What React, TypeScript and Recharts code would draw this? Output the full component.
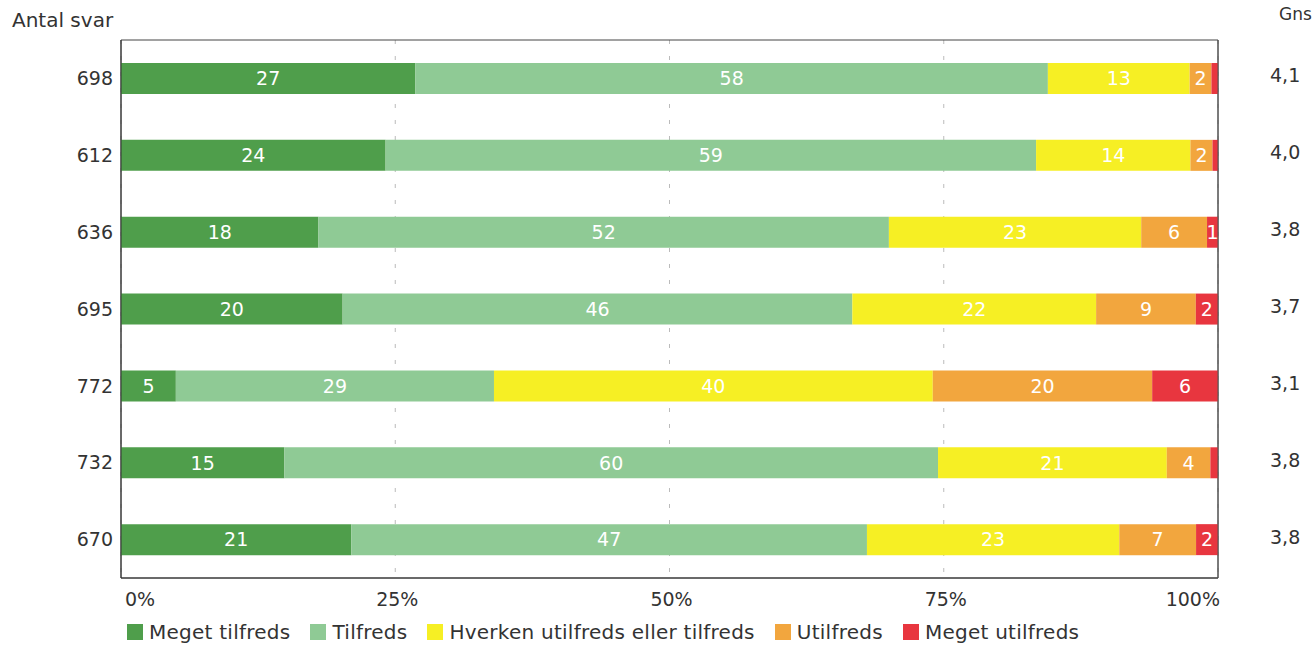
import { Bar, BarChart, CartesianGrid, LabelList, ReferenceArea, XAxis, YAxis } from "recharts";

const antalSvar = ["698", "612", "636", "695", "772", "732", "670"];
const megetTilfreds = [27, 24, 18, 20, 5, 15, 21];
const tilfreds = [58, 59, 52, 46, 29, 60, 47];
const hverken = [13, 14, 23, 22, 40, 21, 23];
const utilfreds = [2, 2, 6, 9, 20, 4, 7];
const megetUtilfreds = [0.6, 0.5, 1, 2, 6, 0.7, 2];
const gns = ["4,1", "4,0", "3,8", "3,7", "3,1", "3,8", "3,8"];
const xTicks = [0, 0.25, 0.5, 0.75, 1];

const series = [
  { key: "megetTilfreds", name: "Meget tilfreds", color: "#4f9e4b" },
  { key: "tilfreds", name: "Tilfreds", color: "#8fca95" },
  { key: "hverken", name: "Hverken utilfreds eller tilfreds", color: "#f6ef24" },
  { key: "utilfreds", name: "Utilfreds", color: "#f2a63e" },
  { key: "megetUtilfreds", name: "Meget utilfreds", color: "#e8363f" },
];

const data = antalSvar.map((n, i) => ({
  n,
  megetTilfreds: megetTilfreds[i],
  tilfreds: tilfreds[i],
  hverken: hverken[i],
  utilfreds: utilfreds[i],
  megetUtilfreds: megetUtilfreds[i],
}));

const font = "'DejaVu Sans', Verdana, sans-serif";

function XTick({ x, y, payload }: any) {
  const v = payload.value;
  const anchor = v === 0 ? "start" : v === 1 ? "end" : "middle";
  return (
    <text x={v === 0 ? x + 4 : x + 2} y={y + 20} textAnchor={anchor} fontSize={19} fill="#333" fontFamily={font}>
      {Math.round(v * 100) + "%"}
    </text>
  );
}

function GnsTick({ x, y, payload }: any) {
  return (
    <text x={x + 44} y={y} dy={4} textAnchor="start" fontSize={19} fill="#333" fontFamily={font}>
      {gns[payload.index]}
    </text>
  );
}

export default function App() {
  return (
    <div style={{ position: "relative", width: 1312, height: 647, fontFamily: font, background: "#fff" }}>
      <style>{"body{margin:0}"}</style>
      <div style={{ position: "absolute", left: 12, top: 8, fontSize: 20, color: "#333" }}>Antal svar</div>
      <div style={{ position: "absolute", left: 1279, top: 4, fontSize: 17, color: "#333" }}>Gns</div>
      <BarChart
        width={1312}
        height={647}
        data={data}
        layout="vertical"
        stackOffset="expand"
        margin={{ top: 40, right: 0, bottom: 0, left: 0 }}
        barSize={31}
      >
        <CartesianGrid horizontal={false} stroke="#bbb" strokeDasharray="4 12" />
        <XAxis
          type="number"
          domain={[0, 1]}
          ticks={xTicks}
          tick={<XTick />}
          tickLine={false}
          axisLine={{ stroke: "#333" }}
          height={69}
        />
        <YAxis
          yAxisId="n"
          type="category"
          dataKey="n"
          width={121}
          tickLine={false}
          axisLine={{ stroke: "#333" }}
          tick={{ fontSize: 19, fill: "#333", fontFamily: font }}
          tickMargin={2}
        />
        <YAxis
          yAxisId="gns"
          orientation="right"
          type="category"
          dataKey="n"
          width={94}
          tickLine={false}
          axisLine={{ stroke: "#555" }}
          tick={<GnsTick />}
        />
        <ReferenceArea yAxisId="n" x1={0} x2={1} fill="none" stroke="#444" strokeWidth={1} />
        {series.map((s) => (
          <Bar key={s.key} yAxisId="n" dataKey={s.key} name={s.name} stackId="a" fill={s.color} isAnimationActive={false}>
            <LabelList
              dataKey={s.key}
              position="center"
              fill="#fff"
              fontSize={19}
              fontFamily={font}
              formatter={(v: any) => (v >= 1 ? String(v) : "")}
            />
          </Bar>
        ))}
      </BarChart>
      <div
        style={{
          position: "absolute",
          left: 127,
          top: 620,
          display: "flex",
          alignItems: "center",
          fontSize: 20,
          letterSpacing: 0.25,
          color: "#333",
          whiteSpace: "nowrap",
        }}
      >
        {series.map((s) => (
          <div key={s.key} style={{ display: "flex", alignItems: "center", marginRight: 20 }}>
            <span style={{ display: "inline-block", width: 16, height: 16, background: s.color, marginRight: 6 }} />
            <span>{s.name}</span>
          </div>
        ))}
      </div>
    </div>
  );
}
